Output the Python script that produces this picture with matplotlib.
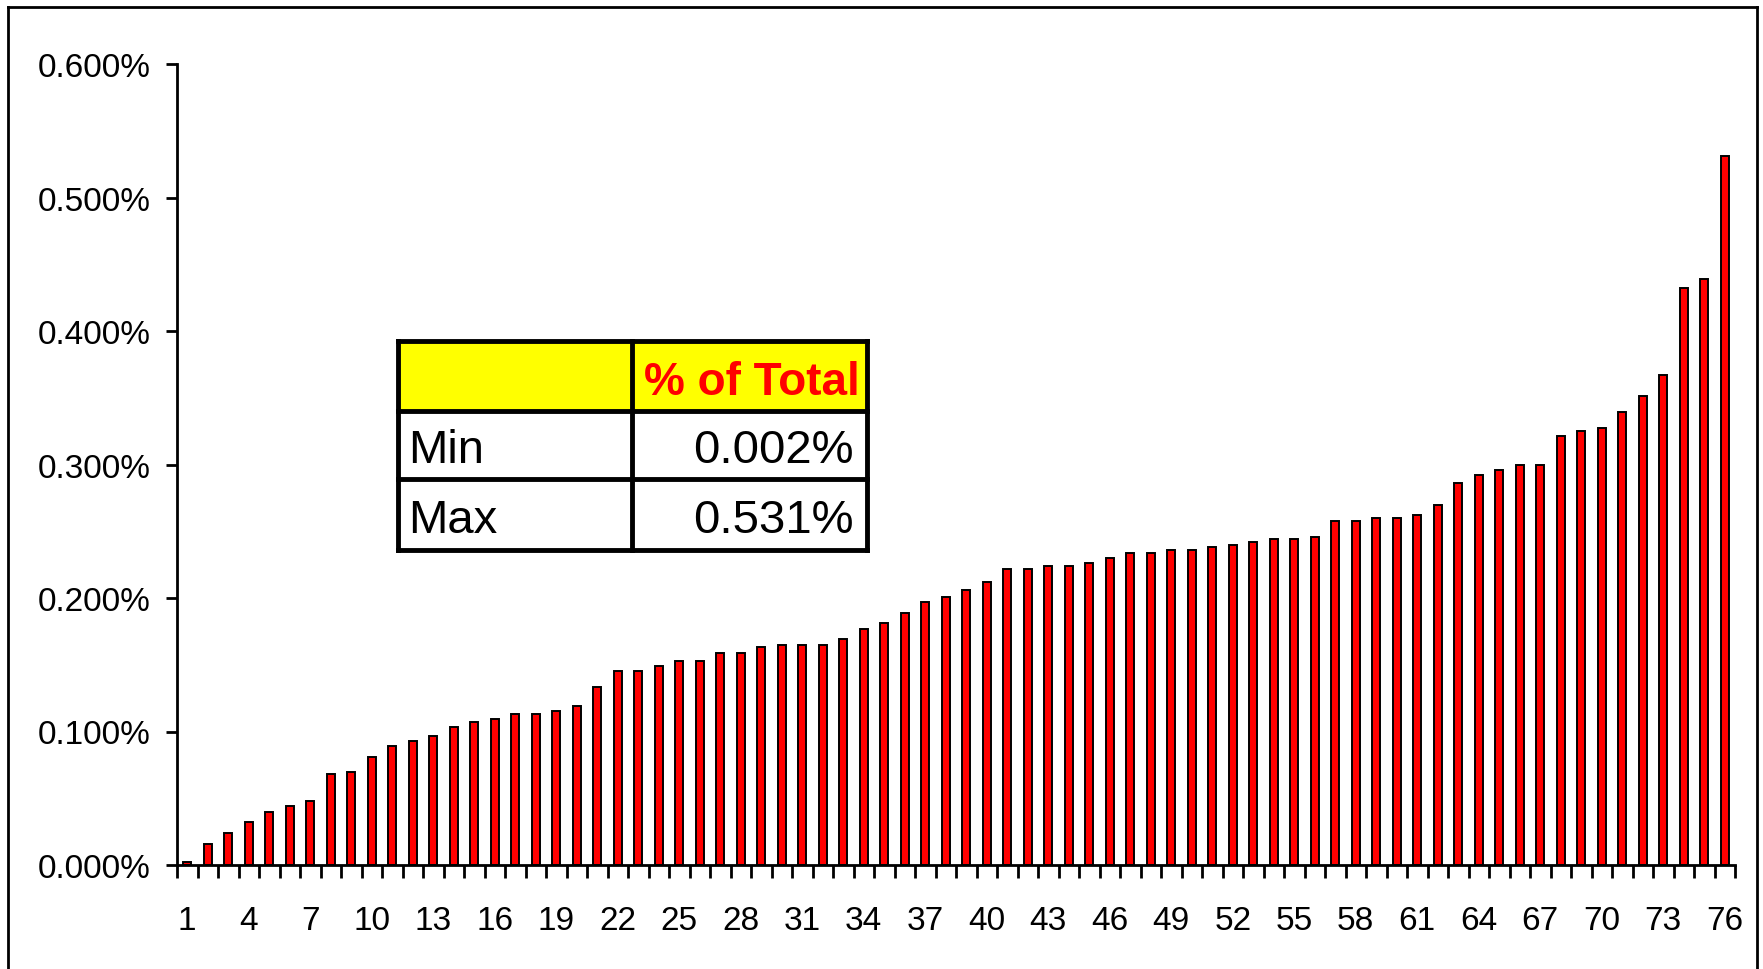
import matplotlib
matplotlib.use("Agg")
import matplotlib.pyplot as plt
from matplotlib.patches import Rectangle
from matplotlib.lines import Line2D
from matplotlib.ticker import FixedLocator, FuncFormatter

categories = list(range(1, 77))
values = [0.002, 0.016, 0.024, 0.032, 0.040, 0.044, 0.048, 0.068, 0.070, 0.081,
          0.089, 0.093, 0.097, 0.103, 0.107, 0.109, 0.113, 0.113, 0.115, 0.119,
          0.133, 0.145, 0.145, 0.149, 0.153, 0.153, 0.159, 0.159, 0.163, 0.165,
          0.165, 0.165, 0.169, 0.177, 0.181, 0.189, 0.197, 0.201, 0.206, 0.212,
          0.222, 0.222, 0.224, 0.224, 0.226, 0.230, 0.234, 0.234, 0.236, 0.236,
          0.238, 0.240, 0.242, 0.244, 0.244, 0.246, 0.258, 0.258, 0.260, 0.260,
          0.262, 0.270, 0.286, 0.292, 0.296, 0.300, 0.300, 0.321, 0.325, 0.327,
          0.339, 0.351, 0.367, 0.432, 0.439, 0.531]
xtick_labels = list(range(1, 77, 3))
ytick_values = [0.0, 0.1, 0.2, 0.3, 0.4, 0.5, 0.6]
table_header = "% of Total"
table_rows = [("Min", "0.002%"), ("Max", "0.531%")]

W, H = 1763, 970
fig = plt.figure(figsize=(W / 100, H / 100), dpi=100)
fig.patch.set_facecolor("white")

font = ["Liberation Sans", "DejaVu Sans"]

ax = fig.add_axes([177 / W, 1 - 866 / H, (1735 - 177) / W, (866 - 65) / H])
ax.bar(categories, values, width=0.38, color="#FF0000", edgecolor="black", linewidth=1.4, zorder=3)
ax.set_xlim(0.5, 76.5)
ax.set_ylim(0, 0.6)

for s in ["top", "right"]:
    ax.spines[s].set_visible(False)
for s in ["left", "bottom"]:
    ax.spines[s].set_linewidth(2.0)
    ax.spines[s].set_color("black")
    ax.spines[s].set_zorder(4)

ax.set_yticks(ytick_values)
ax.yaxis.set_major_formatter(FuncFormatter(lambda v, p: f"{v:.3f}%"))
ax.tick_params(axis="y", direction="out", length=8, width=2.0, pad=11, labelsize=24)

ax.xaxis.set_major_locator(FixedLocator(xtick_labels))
ax.xaxis.set_major_formatter(FuncFormatter(lambda v, p: f"{int(round(v))}"))
ax.xaxis.set_minor_locator(FixedLocator([c + 0.5 for c in [0] + categories]))
ax.tick_params(axis="x", which="major", length=0, pad=29, labelsize=24)
ax.tick_params(axis="x", which="minor", direction="out", length=9, width=2.0)

for lab in ax.get_xticklabels() + ax.get_yticklabels():
    lab.set_fontfamily(font)

def fx(x):
    return x / W

def fy(y):
    return 1 - y / H

# outer frame
for (x0, y0, x1, y1) in [(8, 8, 1757, 8), (8, 8, 8, 975), (1757, 8, 1757, 975)]:
    fig.add_artist(Line2D([fx(x0), fx(x1)], [fy(y0), fy(y1)], color="black", linewidth=2.0,
                          transform=fig.transFigure))

# table
tx0, tx1, tcol = 398, 867, 632
ty0, tr1, tr2, ty1 = 342, 412, 480, 551
fig.add_artist(Rectangle((fx(tx0), fy(tr1)), fx(tx1) - fx(tx0), fy(ty0) - fy(tr1),
                         facecolor="#FFFF00", edgecolor="none", transform=fig.transFigure))
fig.add_artist(Rectangle((fx(tx0), fy(ty1)), fx(tx1) - fx(tx0), fy(tr1) - fy(ty1),
                         facecolor="white", edgecolor="none", transform=fig.transFigure))
lw = 3.5
for (x0, y0, x1, y1) in [(tx0, ty0, tx1, ty0), (tx0, ty1, tx1, ty1), (tx0, ty0, tx0, ty1),
                         (tx1, ty0, tx1, ty1), (tcol, ty0, tcol, ty1),
                         (tx0, tr1, tx1, tr1), (tx0, tr2, tx1, tr2)]:
    fig.add_artist(Line2D([fx(x0), fx(x1)], [fy(y0), fy(y1)], color="black", linewidth=lw,
                          solid_capstyle="projecting", transform=fig.transFigure))

fig.text(fx(860), fy(395), table_header, ha="right", va="baseline", fontsize=33,
         fontweight="bold", color="#FF0000", family=font)
for (label, val), base in zip(table_rows, [463, 533]):
    fig.text(fx(408), fy(base), label, ha="left", va="baseline", fontsize=34,
             color="black", family=font)
    fig.text(fx(854), fy(base), val, ha="right", va="baseline", fontsize=34,
             color="black", family=font)

fig.savefig("out.png", dpi=100, facecolor="white")
